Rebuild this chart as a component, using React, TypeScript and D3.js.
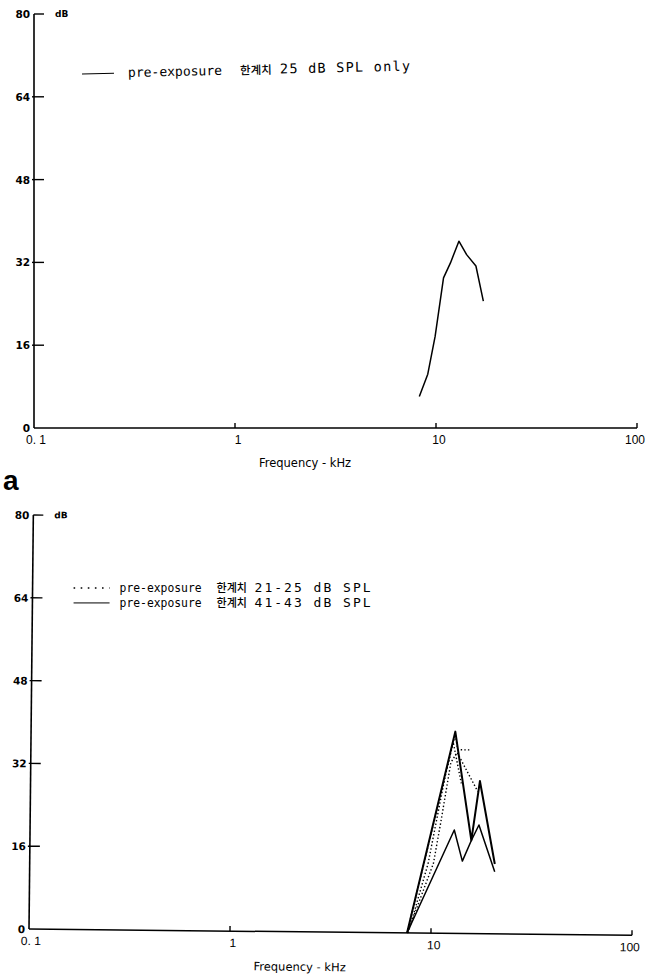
import React from "react";
import * as d3 from "d3";

// frequency (kHz), threshold (dB)
const topCurve: [number, number][] = [
  [8.26, 6.1], [9.1, 10.4], [9.9, 17.7], [10.9, 29.0], [11.8, 31.9],
  [13.0, 36.1], [14.2, 33.5], [15.8, 31.3], [17.2, 24.5],
];

const dotted1: [number, number][] = [[7.6, 0], [12.9, 38.5], [13.3, 35.5], [15.2, 35.5]];
const dotted2: [number, number][] = [[7.7, 0], [9.6, 13.5], [11.5, 30], [12.6, 37], [13.9, 29]];
const dotted3: [number, number][] = [
  [7.8, 1], [10.2, 13.5], [11.1, 22], [12.3, 33], [13.2, 35], [15.0, 31], [16.8, 27.5],
];
const solid1: [number, number][] = [[7.6, 0], [12.9, 39], [15.7, 18], [17.2, 29.5], [20.6, 13.5]];
const solid2: [number, number][] = [[7.6, 0], [12.9, 20], [14.2, 14], [15.7, 18], [17.1, 21], [20.6, 12]];

const yTicks = [0, 16, 32, 48, 64, 80];
const xTicks = [0.1, 1, 10, 100];
const xTickLabels = ["0. 1", "1", "10", "100"];

const W = 645, H = 979;
const plotW = 603, plotH = 414;

const x = d3.scaleLog().domain([0.1, 100]).range([0, plotW]);
const y = d3.scaleLinear().domain([0, 80]).range([0, -plotH]);
const line = d3.line<[number, number]>().x(d => x(d[0])).y(d => y(d[1]));

const tickFont = "'DejaVu Sans', sans-serif";
const textFont = "'Liberation Sans', sans-serif";
const monoFont = "'DejaVu Sans Mono', monospace";
const korFont = "'Noto Sans CJK KR', sans-serif";

type Series = { data: [number, number][]; dotted?: boolean; width: number };
type LegendRow = { dotted?: boolean; range: string; dy: number };
type LegendLayout = {
  y: number; rot: number; fs: number; lineX: [number, number];
  preX: number; preW: number; korX: number; korFs: number; rangeX: number; rangeW: number; rangeFs: number;
};

function Chart(props: { ox: number; oy: number; rot: number; series: Series[]; legend: LegendRow[]; lay: LegendLayout }) {
  const { ox, oy, rot, series, legend, lay } = props;
  return (
    <g transform={`translate(${ox},${oy}) rotate(${rot})`}>
      {/* y axis */}
      <line x1={0} x2={0} y1={y(80)} y2={0} stroke="#000" strokeWidth={1.6} />
      {yTicks.map(t => (
        <g key={t}>
          {t > 0 && (
            <line x1={t === 80 ? 0 : -2} x2={10} y1={y(t)} y2={y(t)} stroke="#000" strokeWidth={1.4} />
          )}
          <text x={-4} y={y(t) + 4} textAnchor="end" fontFamily={tickFont} fontWeight="bold" fontSize={10.5}>
            {t}
          </text>
        </g>
      ))}
      <text x={21} y={y(80) + 3} fontFamily={tickFont} fontWeight="bold" fontSize={9}>dB</text>
      {/* x axis */}
      <line x1={0} x2={plotW} y1={0} y2={0} stroke="#000" strokeWidth={1.5} />
      {xTicks.map((t, i) => (
        <g key={t}>
          {i > 0 && <line x1={x(t)} x2={x(t)} y1={0} y2={-5} stroke="#000" strokeWidth={1.4} />}
          <text x={i === 3 ? x(t) + 8 : x(t) + (i === 0 ? 2 : 3)} y={16}
            textAnchor={i === 3 ? "end" : "middle"} fontFamily={textFont} fontSize={12}>
            {xTickLabels[i]}
          </text>
        </g>
      ))}
      <text x={271} y={39} textAnchor="middle" fontFamily={tickFont} fontSize={11.5}>Frequency - kHz</text>
      {/* legend */}
      <g transform={`translate(0,${lay.y}) rotate(${lay.rot} ${lay.preX} 0)`}>
        {legend.map((r, i) => (
          <g key={i} transform={`translate(0,${r.dy})`}>
            <line x1={lay.lineX[0]} x2={lay.lineX[1]} y1={0} y2={0} stroke="#000"
              strokeWidth={r.dotted ? 1.6 : 1} strokeDasharray={r.dotted ? "1.6,5.5" : undefined} />
            <text x={lay.preX} y={4} fontFamily={monoFont} fontSize={lay.fs}
              textLength={lay.preW} lengthAdjust="spacingAndGlyphs">pre-exposure</text>
            <text x={lay.korX} y={4} fontFamily={korFont} fontSize={lay.korFs} fontWeight={500}>한계치</text>
            <text x={lay.rangeX} y={4} fontFamily={monoFont} fontSize={lay.rangeFs}
              textLength={lay.rangeW} lengthAdjust="spacing">
              {r.range}
            </text>
          </g>
        ))}
      </g>
      {/* curves */}
      {series.map((s, i) => (
        <path key={i} d={line(s.data) || ""} fill="none" stroke="#000" strokeWidth={s.width}
          strokeDasharray={s.dotted ? "1.4,2.2" : undefined} strokeLinejoin="round" />
      ))}
    </g>
  );
}

export default function App() {
  return (
    <div style={{ position: "absolute", left: 0, top: 0 }}>
      <svg width={W} height={H} viewBox={`0 0 ${W} ${H}`} style={{ display: "block", background: "#fff" }}>
        <Chart ox={34} oy={428} rot={0}
          series={[{ data: topCurve, width: 1.5 }]}
          legend={[{ range: "25 dB SPL only", dy: 0 }]}
          lay={{ y: -355, rot: -1.3, fs: 13, lineX: [48, 80], preX: 94, preW: 94,
            korX: 206, korFs: 11.5, rangeX: 246, rangeW: 130, rangeFs: 13.5 }} />
        <text x={3} y={490} fontFamily="'Liberation Sans', sans-serif" fontWeight="bold" fontSize={28}>a</text>
        <Chart ox={29} oy={929} rot={0.6}
          series={[
            { data: dotted1, dotted: true, width: 1.4 },
            { data: dotted2, dotted: true, width: 1.4 },
            { data: dotted3, dotted: true, width: 1.4 },
            { data: solid1, width: 2 },
            { data: solid2, width: 1.5 },
          ]}
          legend={[{ dotted: true, range: "21-25 dB SPL", dy: 0 }, { range: "41-43 dB SPL", dy: 15 }]}
          lay={{ y: -342, rot: -0.6, fs: 11.5, lineX: [41, 77], preX: 87, preW: 82,
            korX: 184, korFs: 11, rangeX: 222, rangeW: 116, rangeFs: 13 }} />
      </svg>
    </div>
  );
}
